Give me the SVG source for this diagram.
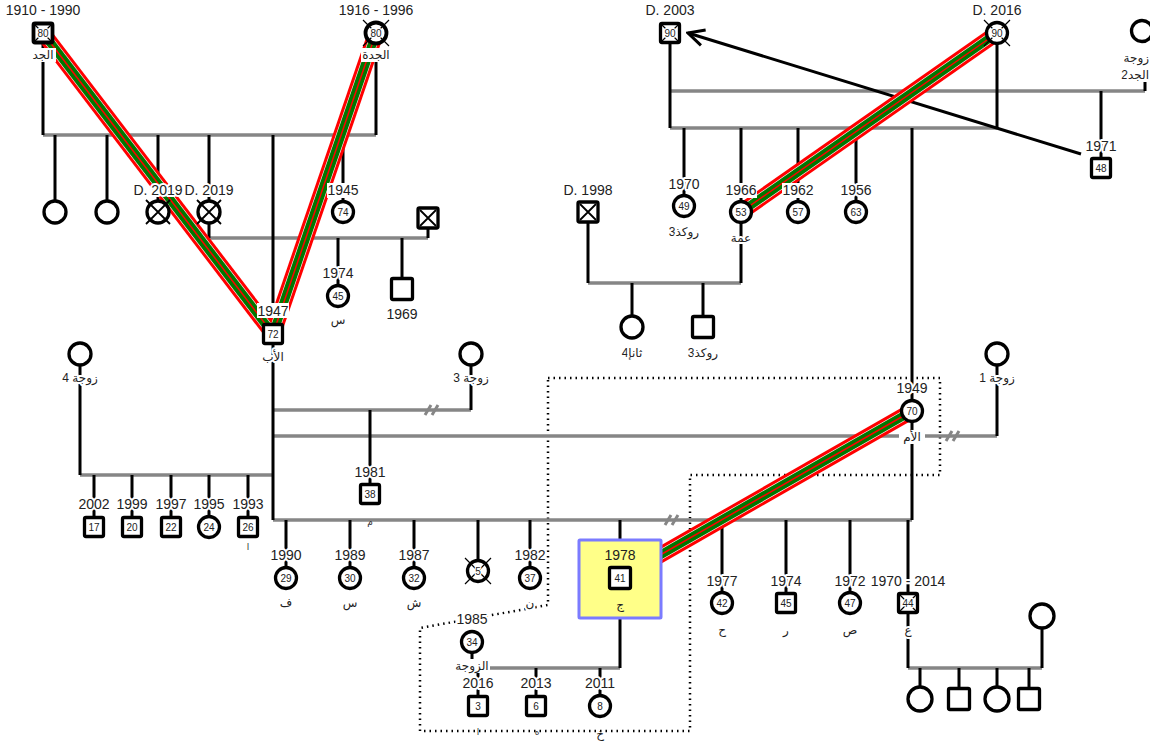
<svg xmlns="http://www.w3.org/2000/svg" width="1150" height="742" viewBox="0 0 1150 742">
<defs>
<style>
.nd{fill:#fff;stroke:#000;stroke-width:3.3}
.g{stroke:#868686;stroke-width:3.5;fill:none}
.k{stroke:#000;stroke-width:3;fill:none}
.x{stroke:#000;stroke-width:1.2}
.xx{stroke:#000;stroke-width:1.8}
.t{font-family:"Liberation Sans","DejaVu Sans",Arial,sans-serif;font-size:14px;fill:#222;text-anchor:middle;paint-order:stroke;stroke:#fff;stroke-width:4px;stroke-linejoin:round}
.s{font-size:12px}
.a{font-size:10px;stroke-width:2.5px}
.nh{stroke:none}
.tiny{font-size:9px;stroke:none;fill:#333}
.wb{fill:#fff}
.b1{stroke:#ff0000;stroke-width:16;fill:none}
.b2{stroke:#fff;stroke-width:10;fill:none}
.b3{stroke:#007700;stroke-width:8.8;fill:none}
.b4{stroke:#ff0000;stroke-width:1.5;fill:none}
.dv{stroke:#868686;stroke-width:3}
.dot{stroke:#000;stroke-width:2.5;stroke-dasharray:1.5 4;fill:none}
</style>
<marker id="arr" markerUnits="userSpaceOnUse" markerWidth="20" markerHeight="20" viewBox="0 0 20 20" refX="18" refY="10" orient="auto">
<path d="M2,2 L18,10 L2,18" fill="none" stroke="#000" stroke-width="3"/>
</marker>
</defs>
<rect width="1150" height="742" fill="#fff"/>

<g id="connectors">
<path class="dot" d="M548,378 H940 V475 H690 V731 H420 V628 L548,605 Z"/>
<g class="g">
<path d="M43,135 H376"/>
<path d="M209,238 H428"/>
<path d="M670,91 H1145"/>
<path d="M670,128 H997"/>
<path d="M588,283 H741"/>
<path d="M273,410 H471"/>
<path d="M273,436 H997"/>
<path d="M80,475 H273"/>
<path d="M273,520 H912"/>
<path d="M472,668 H620"/>
<path d="M908,668 H1042"/>
</g>
<g class="k">
<path d="M43,44 V135 M376,44 V135"/>
<path d="M55,135 V201 M107,135 V201 M158,135 V201 M209,135 V201 M273,135 V323 M343,135 V201"/>
<path d="M209,223 V238 M428,228 V238 M338,238 V285 M402,238 V278"/>
<path d="M670,44 V128 M997,44 V128 M1145,82 V91 M1101,91 V157"/>
<path d="M684,128 V195 M741,128 V201 M798,128 V201 M856,128 V201 M912,128 V400"/>
<path d="M741,223 V283 M588,222 V283 M632,283 V316 M703,283 V316"/>
<path d="M273,345 V520 M471,365 V410 M997,365 V436 M80,365 V475 M370,410 V483"/>
<path d="M94,475 V517 M132,475 V517 M171,475 V517 M209,475 V517 M248,475 V517"/>
<path d="M912,422 V520"/>
<path d="M286,520 V567 M350,520 V567 M414,520 V567 M478,520 V560 M530,520 V567 M620,520 V540"/>
<path d="M722,520 V592 M786,520 V592 M850,520 V592 M908,520 V592"/>
<path d="M620,618 V668 M472,653 V668 M478,668 V695 M536,668 V695 M600,668 V695"/>
<path d="M908,614 V668 M1042,628 V668 M920,668 V687 M959,668 V688 M997,668 V687 M1029,668 V688"/>
<path d="M1081,154 L688,33" marker-end="url(#arr)"/>
</g>
<g class="dv">
<path d="M425,415 L431,405 M432,415 L438,405"/>
<path d="M946,441 L952,431 M953,441 L959,431"/>
<path d="M665,525 L671,515 M672,525 L678,515"/>
</g>
</g>

<g id="bands">
<g class="b1"><path d="M43,33 L273,334"/><path d="M376,33 L273,334"/><path d="M997,33 L741,212"/><path d="M912,411 L620,578"/></g>
<g class="b2"><path d="M43,33 L273,334"/><path d="M376,33 L273,334"/><path d="M997,33 L741,212"/><path d="M912,411 L620,578"/></g>
<g class="b3"><path d="M43,33 L273,334"/><path d="M376,33 L273,334"/><path d="M997,33 L741,212"/><path d="M912,411 L620,578"/></g>
<g class="b4"><path d="M43,33 L273,334"/><path d="M376,33 L273,334"/><path d="M997,33 L741,212"/><path d="M912,411 L620,578"/></g>
</g>

<g id="n_grandfather">
<rect class="nd" x="33.5" y="23.5" width="19" height="19" rx="1.5" style="stroke-width:3.8"/>
<path class="x" d="M35,25 L51,41 M51,25 L35,41"/>
<text class="t a" x="43" y="36.5">80</text>
<text class="t" x="43" y="15">1910 - 1990</text>
<rect class="wb" x="30" y="48" width="26" height="14"/>
<text class="t s nh" x="43" y="59">الجد</text>
</g>
<g id="n_grandmother">
<circle class="nd" cx="376" cy="33" r="10.5" style="stroke-width:3.8"/>
<path class="x" d="M363,20 L389,46 M389,20 L363,46"/>
<text class="t a" x="376" y="36.5">80</text>
<text class="t" x="376" y="15">1916 - 1996</text>
<rect class="wb" x="361" y="48" width="30" height="14"/>
<text class="t s nh" x="376" y="59">الجدة</text>
</g>
<g id="n_aunt1"><circle class="nd" cx="55" cy="212" r="11"/></g>
<g id="n_aunt2"><circle class="nd" cx="107" cy="212" r="11"/></g>
<g id="n_aunt3">
<circle class="nd" cx="158" cy="212" r="11"/>
<path class="xx" d="M146,200 L170,224 M170,200 L146,224"/>
<text class="t" x="158" y="195">D. 2019</text>
</g>
<g id="n_aunt4">
<circle class="nd" cx="209" cy="212" r="11"/>
<path class="xx" d="M197,200 L221,224 M221,200 L197,224"/>
<text class="t" x="209" y="195">D. 2019</text>
</g>
<g id="n_aunt5">
<circle class="nd" cx="343" cy="212" r="10.5"/>
<text class="t a" x="343" y="215.5">74</text>
<rect class="wb" x="327" y="183" width="32" height="15"/>
<text class="t nh" x="343" y="195">1945</text>
</g>
<g id="n_uncle_inlaw">
<rect class="nd" x="418" y="208" width="20" height="20" rx="1.5"/>
<path class="xx" d="M420,210 L436,226 M436,210 L420,226"/>
</g>
<g id="n_cousin1974">
<circle class="nd" cx="338" cy="296" r="10.5"/>
<text class="t a" x="338" y="299.5">45</text>
<text class="t" x="338" y="278">1974</text>
<text class="t s" x="338" y="324">س</text>
</g>
<g id="n_cousin1969">
<rect class="nd" x="391.5" y="278.5" width="21" height="21" rx="1.5"/>
<text class="t" x="402" y="319">1969</text>
</g>
<g id="n_father">
<rect class="nd" x="263.5" y="324.5" width="19" height="19" rx="1.5"/>
<text class="t a" x="273" y="338">72</text>
<rect class="wb" x="257" y="303" width="32" height="15"/>
<text class="t nh" x="273" y="316">1947</text>
<text class="t s" x="273" y="361">الأب</text>
</g>

<g id="n_wife4">
<circle class="nd" cx="80" cy="354" r="11"/>
<text class="t s" x="80" y="382">زوجة 4</text>
</g>
<g id="n_wife3">
<circle class="nd" cx="471" cy="354" r="11"/>
<text class="t s" x="471" y="382">زوجة 3</text>
</g>
<g id="n_wife1">
<circle class="nd" cx="997" cy="354" r="11"/>
<text class="t s" x="997" y="382">زوجة 1</text>
</g>

<g id="n_h2002"><rect class="nd" x="84.5" y="517.5" width="19" height="19" rx="1.5"/><text class="t a" x="94" y="531">17</text><text class="t" x="94" y="509">2002</text></g>
<g id="n_h1999"><rect class="nd" x="122.5" y="517.5" width="19" height="19" rx="1.5"/><text class="t a" x="132" y="531">20</text><text class="t" x="132" y="509">1999</text></g>
<g id="n_h1997"><rect class="nd" x="161.5" y="517.5" width="19" height="19" rx="1.5"/><text class="t a" x="171" y="531">22</text><text class="t" x="171" y="509">1997</text></g>
<g id="n_h1995"><circle class="nd" cx="209" cy="527" r="10.5"/><text class="t a" x="209" y="530.5">24</text><text class="t" x="209" y="509">1995</text></g>
<g id="n_h1993"><rect class="nd" x="238.5" y="517.5" width="19" height="19" rx="1.5"/><text class="t a" x="248" y="531">26</text><text class="t" x="248" y="509">1993</text><text class="t tiny" x="248" y="550">ا</text></g>
<g id="n_h1981"><rect class="nd" x="360.5" y="484.5" width="19" height="19" rx="1.5"/><text class="t a" x="370" y="498">38</text><text class="t" x="370" y="477">1981</text></g>

<g id="n_mother">
<circle class="nd" cx="912" cy="411" r="10.5"/>
<text class="t a" x="912" y="414.5">70</text>
<text class="t" x="912" y="393">1949</text>
<rect class="wb" x="899" y="430" width="26" height="14"/>
<text class="t s nh" x="912" y="441">الأم</text>
</g>
<text class="t tiny" x="370" y="525">م</text>

<g id="n_s1990"><circle class="nd" cx="286" cy="578" r="10.5"/><text class="t a" x="286" y="581.5">29</text><text class="t" x="286" y="560">1990</text><text class="t s" x="286" y="607">ف</text></g>
<g id="n_s1989"><circle class="nd" cx="350" cy="578" r="10.5"/><text class="t a" x="350" y="581.5">30</text><text class="t" x="350" y="560">1989</text><text class="t s" x="350" y="607">س</text></g>
<g id="n_s1987"><circle class="nd" cx="414" cy="578" r="10.5"/><text class="t a" x="414" y="581.5">32</text><text class="t" x="414" y="560">1987</text><text class="t s" x="414" y="607">ش</text></g>
<g id="n_s5"><circle class="nd" cx="478" cy="571" r="10.5"/><path class="x" d="M465,558 L491,584 M491,558 L465,584"/><text class="t a" x="478" y="574.5">5</text></g>
<g id="n_s1982"><circle class="nd" cx="530" cy="578" r="10.5"/><text class="t a" x="530" y="581.5">37</text><text class="t" x="530" y="560">1982</text><text class="t s" x="530" y="607">ن</text></g>
<g id="n_ego">
<rect x="579" y="540" width="82" height="78" fill="#ffff88" stroke="#7b7bff" stroke-width="3" rx="1"/>
<rect class="nd" x="609.5" y="567.5" width="21" height="21" rx="1.5"/>
<text class="t a nh" x="620" y="582">41</text>
<text class="t nh" x="620" y="560">1978</text>
<text class="t s nh" x="620" y="609">ج</text>
</g>
<g id="n_s1977"><circle class="nd" cx="722" cy="603" r="10.5"/><text class="t a" x="722" y="606.5">42</text><text class="t" x="722" y="586">1977</text><text class="t s" x="722" y="634">ح</text></g>
<g id="n_s1974"><rect class="nd" x="776.5" y="593.5" width="19" height="19" rx="1.5"/><text class="t a" x="786" y="607">45</text><text class="t" x="786" y="586">1974</text><text class="t s" x="786" y="634">ر</text></g>
<g id="n_s1972"><circle class="nd" cx="850" cy="603" r="10.5"/><text class="t a" x="850" y="606.5">47</text><text class="t" x="850" y="586">1972</text><text class="t s" x="850" y="634">ص</text></g>
<g id="n_s1970"><rect class="nd" x="898.5" y="593.5" width="19" height="19" rx="1.5"/><path class="x" d="M900,595 L916,611 M916,595 L900,611"/><text class="t a" x="908" y="607">44</text><text class="t" x="908" y="586">1970 - 2014</text><text class="t s" x="908" y="634">ع</text></g>

<g id="n_egowife">
<circle class="nd" cx="472" cy="642" r="10.5"/>
<text class="t a" x="472" y="645.5">34</text>
<text class="t" x="472" y="624">1985</text>
<rect class="wb" x="455" y="659" width="35" height="14"/>
<text class="t s nh" x="472" y="670">الزوجة</text>
</g>
<g id="n_g2016"><rect class="nd" x="468.5" y="696.5" width="19" height="19" rx="1.5"/><text class="t a" x="478" y="710">3</text><text class="t" x="478" y="688">2016</text><text class="t tiny" x="478" y="735">ا</text></g>
<g id="n_g2013"><rect class="nd" x="526.5" y="696.5" width="19" height="19" rx="1.5"/><text class="t a" x="536" y="710">6</text><text class="t" x="536" y="688">2013</text><text class="t tiny" x="537" y="735">ه</text></g>
<g id="n_g2011"><circle class="nd" cx="600" cy="706" r="10.5"/><text class="t a" x="600" y="709.5">8</text><text class="t" x="600" y="688">2011</text><text class="t s nh" x="600" y="738">خ</text></g>

<g id="n_bwife"><circle class="nd" cx="1042" cy="616" r="12"/></g>
<g id="n_bk1"><circle class="nd" cx="920" cy="699" r="12"/></g>
<g id="n_bk2"><rect class="nd" x="948.5" y="688.5" width="21" height="21" rx="1.5"/></g>
<g id="n_bk3"><circle class="nd" cx="997" cy="699" r="12"/></g>
<g id="n_bk4"><rect class="nd" x="1018.5" y="688.5" width="21" height="21" rx="1.5"/></g>

<g id="n_mgrandfather">
<rect class="nd" x="660.5" y="23.5" width="19" height="19" rx="1.5"/>
<path class="x" d="M662,25 L678,41 M678,25 L662,41"/>
<text class="t a" x="670" y="37">90</text>
<text class="t" x="670" y="15">D. 2003</text>
</g>
<g id="n_mgrandmother">
<circle class="nd" cx="997" cy="33" r="10.5"/>
<path class="x" d="M984,20 L1010,46 M1010,20 L984,46"/>
<text class="t a" x="997" y="36.5">90</text>
<text class="t" x="997" y="15">D. 2016</text>
</g>
<g id="n_mgwife2">
<circle class="nd" cx="1142" cy="31" r="10.5"/>
<text class="t s" x="1149" y="62" style="text-anchor:end">زوجة</text>
<text class="t s" x="1149" y="79" style="text-anchor:end">الجد2</text>
</g>
<g id="n_m1971"><rect class="nd" x="1091.5" y="158.5" width="19" height="19" rx="1.5"/><text class="t a" x="1101" y="172">48</text><text class="t" x="1101" y="151">1971</text></g>
<g id="n_m1970"><circle class="nd" cx="684" cy="206" r="10.5"/><text class="t a" x="684" y="209.5">49</text><text class="t" x="684" y="189">1970</text><text class="t s" x="684" y="236">روكذ3</text></g>
<g id="n_m1966"><circle class="nd" cx="741" cy="212" r="10.5"/><text class="t a" x="741" y="215.5">53</text><rect class="wb" x="725" y="183" width="32" height="15"/><text class="t nh" x="741" y="195">1966</text><text class="t s" x="741" y="242">عمة</text></g>
<g id="n_m1962"><circle class="nd" cx="798" cy="212" r="10.5"/><text class="t a" x="798" y="215.5">57</text><rect class="wb" x="782" y="183" width="32" height="15"/><text class="t nh" x="798" y="195">1962</text></g>
<g id="n_m1956"><circle class="nd" cx="856" cy="212" r="10.5"/><text class="t a" x="856" y="215.5">63</text><text class="t" x="856" y="195">1956</text></g>
<g id="n_d1998">
<rect class="nd" x="578" y="202" width="20" height="20" rx="1.5"/>
<path class="xx" d="M580,204 L596,220 M596,204 L580,220"/>
<text class="t" x="588" y="195">D. 1998</text>
</g>
<g id="n_mc_f"><circle class="nd" cx="632" cy="327" r="11"/><text class="t s" x="632" y="357">ثانإ4</text></g>
<g id="n_mc_m"><rect class="nd" x="692.5" y="316.5" width="21" height="21" rx="1.5"/><text class="t s" x="703" y="357">روكذ3</text></g>
</svg>
